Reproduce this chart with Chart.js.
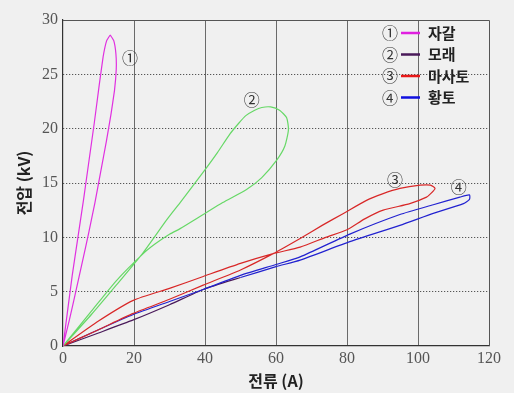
<!DOCTYPE html>
<html>
<head>
<meta charset="utf-8">
<script src="https://cdn.jsdelivr.net/npm/chart.js@4"></script>
<style>
  body { margin: 0; background: #f0f0f0; }
  canvas { display: block; }
</style>
</head>
<body>
<canvas id="chart" width="514" height="393"></canvas>
<script>
// 시료별 전류-전압 궤적 (A, kV)
const names = ['자갈', '모래', '마사토', '황토'];
const marks = ['①', '②', '③', '④'];

const gravel_i = [0, 1.2, 2.6, 4.2, 5.8, 7.3, 8.8, 10.2, 11.3, 12.3, 13.3, 14.3, 14.9, 15.0, 14.5, 13.5, 12.2, 10.6, 9.0, 7.3, 5.5, 3.6, 1.8, 0];
const gravel_v = [0, 3, 6.5, 10, 13.5, 17, 20.5, 24, 26.6, 28.1, 28.6, 28.1, 26.9, 25.5, 23.5, 21.3, 18.8, 16, 13.2, 10.5, 7.8, 5, 2.4, 0];

const sand_i = [0, 8, 15, 22.6, 26, 30.1, 33, 39.5, 45, 51.7, 56, 60.2, 62.5, 63.5, 63, 61, 58.5, 56, 54, 51.5, 49.5, 47, 43.5, 39.5, 33, 29.2, 22.6, 15, 8, 0];
const sand_v = [0, 3.2, 6, 8.5, 9.4, 10.3, 10.8, 12.1, 13.2, 14.4, 15.5, 17.1, 18.4, 19.9, 21, 21.7, 22, 21.95, 21.7, 21.2, 20.5, 19.5, 17.8, 16, 13.2, 11.6, 8.6, 5.6, 2.9, 0];

const masato_i = [0, 10, 19.8, 30, 39.5, 50, 59.2, 66.8, 73, 79, 85.5, 90, 94.9, 100.6, 103.5, 104.8, 103.5, 102.4, 97.7, 90.2, 85, 80, 74, 66.8, 59.2, 50, 39.5, 30, 19.8, 10, 0];
const masato_v = [0, 1.5, 3.0, 4.3, 5.6, 7.0, 8.5, 9.9, 11.1, 12.2, 13.4, 14, 14.5, 14.8, 14.8, 14.5, 14, 13.7, 13.1, 12.5, 11.7, 10.7, 10, 9.1, 8.5, 7.6, 6.4, 5.3, 4.2, 2.3, 0];

const loess_i = [0, 10, 19.8, 30, 39.5, 50, 60, 66.8, 80.8, 94.9, 104.3, 112.8, 114.5, 114.5, 111.8, 104.3, 94.9, 80.8, 66.8, 60, 50, 39.5, 30, 19.8, 10, 0];
const loess_v = [0, 1.2, 2.4, 3.8, 5.2, 6.3, 7.3, 7.9, 9.6, 11.1, 12.2, 13.1, 13.5, 13.9, 13.7, 13.0, 12.1, 10.3, 8.2, 7.5, 6.5, 5.2, 4.1, 2.9, 1.5, 0];

// 곡선 번호 표시 위치 (데이터 좌표)
const mark_i = [18.9, 53.2, 93.5, 111.5];
const mark_v = [26.5, 22.6, 15.3, 14.6];

const colors = ['#e030e0', '#66d866', '#d82828', '#2222d0'];
const legendColors = ['#e020e0', '#4a1a5a', '#e81818', '#1010e0'];

function pts(xs, ys) {
    return xs.map((x, i) => ({ x: x, y: ys[i] }));
}

const series = [pts(gravel_i, gravel_v), pts(sand_i, sand_v), pts(masato_i, masato_v), pts(loess_i, loess_v)];

const datasets = series.map((d, k) => ({
    label: names[k],
    data: d,
    showLine: true,
    borderColor: colors[k],
    borderWidth: 1.2,
    pointRadius: 0,
    tension: k === 0 ? 0.1 : 0.2
}));
// 황토 시작 구간은 어두운 보라색
datasets[3].segment = {
    borderColor: c => c.p0DataIndex < 5 ? '#4a1a5a' : undefined
};

const overlay = {
    id: 'overlay',
    afterDraw(chart) {
        const ctx = chart.ctx;
        const a = chart.chartArea;
        const xs = chart.scales.x, ys = chart.scales.y;
        ctx.save();
        ctx.strokeStyle = '#555';
        ctx.lineWidth = 1;
        ctx.beginPath();
        ctx.moveTo(a.left, a.top + 0.5);
        ctx.lineTo(a.right + 0.5, a.top + 0.5);
        ctx.lineTo(a.right + 0.5, a.bottom);
        ctx.stroke();

        ctx.textAlign = 'center';
        ctx.textBaseline = 'middle';
        ctx.fillStyle = '#333';
        ctx.font = '16px "Noto Sans CJK KR"';
        marks.forEach((m, k) => {
            ctx.fillText(m, xs.getPixelForValue(mark_i[k]), ys.getPixelForValue(mark_v[k]));
        });

        // 범례
        names.forEach((n, k) => {
            const y = 33 + k * 21.5;
            ctx.fillStyle = '#333';
            ctx.textAlign = 'center';
            ctx.font = '16px "Noto Sans CJK KR"';
            ctx.fillText(marks[k], 390, y);
            ctx.strokeStyle = legendColors[k];
            ctx.lineWidth = 2.5;
            ctx.beginPath();
            ctx.moveTo(401, y);
            ctx.lineTo(420, y);
            ctx.stroke();
            ctx.fillStyle = '#222';
            ctx.textAlign = 'left';
            ctx.font = 'bold 15px "Noto Sans CJK KR"';
            ctx.fillText(n, 428, y);
        });
        ctx.restore();
    }
};

new Chart(document.getElementById('chart'), {
    type: 'scatter',
    data: { datasets: datasets },
    plugins: [overlay],
    options: {
        responsive: false,
        animation: false,
        layout: { padding: { top: 20, right: 25, left: 0, bottom: 0 } },
        plugins: {
            legend: { display: false },
            tooltip: { enabled: false }
        },
        scales: {
            x: {
                type: 'linear',
                min: 0,
                max: 120,
                afterFit: s => { s.height = 47; },
                ticks: {
                    stepSize: 20,
                    color: '#555',
                    padding: 3,
                    font: { family: '"Liberation Serif"', size: 16 }
                },
                grid: {
                    drawTicks: false,
                    color: c => (c.tick.value === 0 || c.tick.value === 120) ? 'rgba(0,0,0,0)' : '#6a6a6a',
                    lineWidth: 1
                },
                border: { color: '#333', width: 1.2 },
                title: {
                    display: true,
                    text: '전류 (A)',
                    color: '#222',
                    padding: { top: 0, bottom: 2 },
                    font: { family: '"Noto Sans CJK KR"', size: 16, weight: 'bold' }
                }
            },
            y: {
                min: 0,
                max: 30,
                afterFit: s => { s.width = 63; },
                ticks: {
                    stepSize: 5,
                    color: '#555',
                    padding: 5,
                    font: { family: '"Liberation Serif"', size: 16 }
                },
                grid: {
                    drawTicks: false,
                    color: c => (c.tick.value === 0 || c.tick.value === 30) ? 'rgba(0,0,0,0)' : '#333',
                    lineWidth: 1
                },
                border: { color: '#333', width: 1.2, dash: [1, 2] },
                title: {
                    display: true,
                    text: '전압 (kV)',
                    color: '#222',
                    padding: { top: 14, bottom: 0 },
                    font: { family: '"Noto Sans CJK KR"', size: 16, weight: 'bold' }
                }
            }
        }
    }
});
</script>
</body>
</html>
